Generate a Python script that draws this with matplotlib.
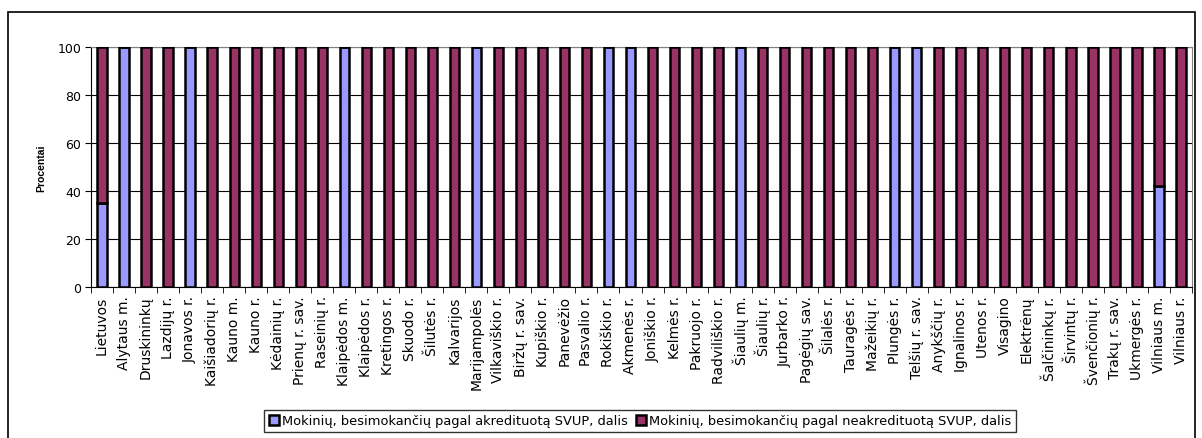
import numpy as np
import matplotlib
matplotlib.use('Agg')
import matplotlib.pyplot as plt
from matplotlib.patches import Rectangle

plt.rcParams['font.family'] = ['DejaVu Sans']

# categories (savivaldybes)
regions = ['Lietuvos', 'Alytaus m.', 'Druskininkų', 'Lazdijų r.', 'Jonavos r.',
           'Kaišiadorių r.', 'Kauno m.', 'Kauno r.', 'Kėdainių r.', 'Prienų r. sav.',
           'Raseinių r.', 'Klaipėdos m.', 'Klaipėdos r.', 'Kretingos r.', 'Skuodo r.',
           'Šilutės r.', 'Kalvarijos', 'Marijampolės', 'Vilkaviškio r.', 'Biržų r. sav.',
           'Kupiškio r.', 'Panevėžio', 'Pasvalio r.', 'Rokiškio r.', 'Akmenės r.',
           'Joniškio r.', 'Kelmės r.', 'Pakruojo r.', 'Radviliškio r.', 'Šiaulių m.',
           'Šiaulių r.', 'Jurbarko r.', 'Pagėgių sav.', 'Šilalės r.', 'Tauragės r.',
           'Mažeikių r.', 'Plungės r.', 'Telšių r. sav.', 'Anykščių r.', 'Ignalinos r.',
           'Utenos r.', 'Visagino', 'Elektrėnų', 'Šalčininkų r.', 'Širvintų r.',
           'Švenčionių r.', 'Trakų r. sav.', 'Ukmergės r.', 'Vilniaus m.', 'Vilniaus r.']

# share of pupils in accredited programmes, %
akredituota = [35, 100, 0, 0, 100, 0, 0, 0, 0, 0,
               0, 100, 0, 0, 0, 0, 0, 100, 0, 0,
               0, 0, 0, 100, 100, 0, 0, 0, 0, 100,
               0, 0, 0, 0, 0, 0, 100, 100, 0, 0,
               0, 0, 0, 0, 0, 0, 0, 0, 42, 0]
neakredituota = [100 - v for v in akredituota]

lbl_a = 'Mokinių, besimokančių pagal akredituotą SVUP, dalis'
lbl_n = 'Mokinių, besimokančių pagal neakredituotą SVUP, dalis'

W, H = 1202, 439
fig = plt.figure(figsize=(W/100, H/100), dpi=100)
# outer chart frame
fig.patches.append(Rectangle((8/W, -0.01), (1195-8)/W, 1.01 - 13/H, transform=fig.transFigure,
                             fill=False, edgecolor='black', linewidth=1.2))

ax = fig.add_axes([91/W, 1 - 288/H, (1192-91)/W, (288-48)/H])
x = np.arange(len(regions))
bw = 0.42
ax.bar(x, akredituota, bw, color='#9999FF', edgecolor='black', linewidth=1.8, label=lbl_a, zorder=3)
ax.bar(x, neakredituota, bw, bottom=akredituota, color='#993366', edgecolor='black', linewidth=1.8,
       label=lbl_n, zorder=3)

ax.set_xlim(-0.5, len(regions) - 0.5)
ax.set_ylim(0, 100)
ax.set_yticks(np.arange(0, 101, 20))
ax.yaxis.grid(True, color='black', linewidth=0.8, zorder=0)
ax.set_axisbelow(True)
ax.tick_params(axis='y', labelsize=9, length=4, direction='out', pad=3)

ax.set_xticks(x)
ax.set_xticklabels(regions, rotation=90, fontsize=10)
ax.tick_params(axis='x', length=0, pad=6)
ax.set_xticks(np.arange(-0.5, len(regions), 1), minor=True)
ax.tick_params(axis='x', which='minor', length=4, direction='out')

ax.spines['top'].set_color('#808080')
ax.spines['right'].set_color('#808080')
ax.set_ylabel('Procentai', fontsize=7.5, fontweight='bold', family='Liberation Sans', labelpad=8)

fig.legend(loc='center', bbox_to_anchor=(640/W, 1 - 422/H), ncol=2, fontsize=9.4,
           frameon=True, fancybox=False, edgecolor='black', handlelength=0.8, handleheight=0.8,
           handletextpad=0.2, columnspacing=0.6, borderpad=0.35)

fig.savefig('out.png', dpi=100)
